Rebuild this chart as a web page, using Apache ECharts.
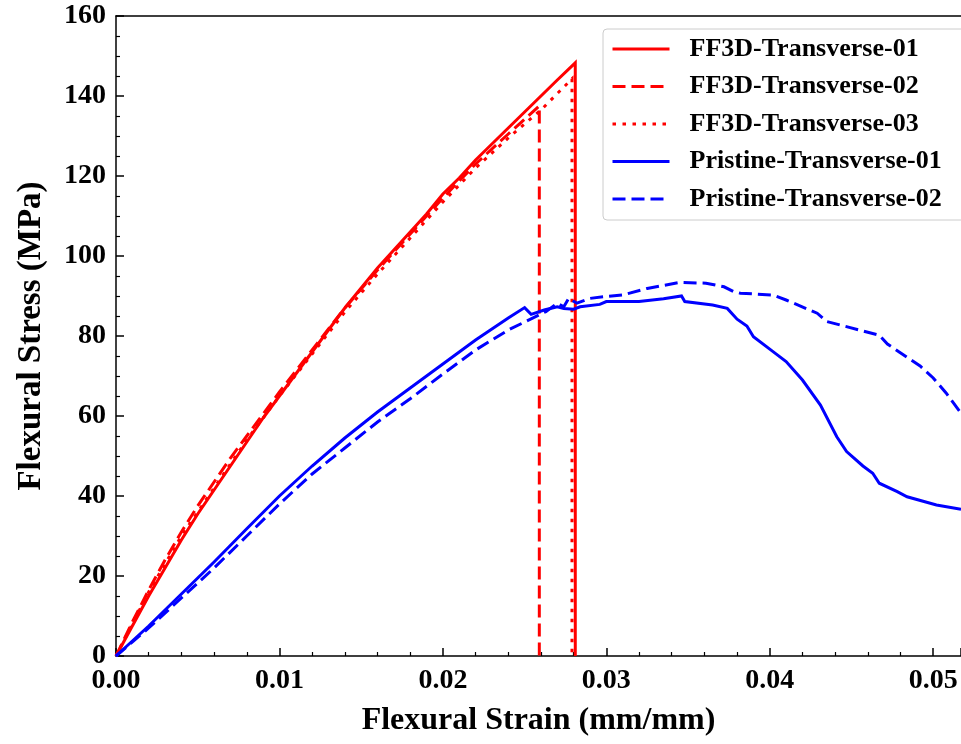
<!DOCTYPE html>
<html>
<head>
<meta charset="utf-8">
<script src="https://cdn.jsdelivr.net/npm/echarts@6/dist/echarts.min.js"></script>
<style>
html,body{margin:0;padding:0;background:#fff;}
#chart{width:961px;height:744px;}
</style>
</head>
<body>
<div id="chart"></div>
<script>
var seriesNames = ['FF3D-Transverse-01','FF3D-Transverse-02','FF3D-Transverse-03','Pristine-Transverse-01','Pristine-Transverse-02'];

var ff3d01 = [[0,0],[0.001,7.5],[0.002,15],[0.003,22],[0.004,29],[0.005,35.5],[0.006,41.5],[0.007,47.5],[0.008,53.5],[0.009,59.5],[0.010,65],[0.011,70.5],[0.012,76],[0.013,81.5],[0.014,87],[0.015,92],[0.016,97],[0.017,101.5],[0.018,106],[0.019,110.5],[0.020,115.5],[0.021,119.5],[0.022,124],[0.023,128],[0.024,132],[0.025,136],[0.026,140],[0.027,144],[0.0281,148.3],[0.0281,0]];

var ff3d02 = [[0,0],[0.001,8.5],[0.002,16.5],[0.003,24],[0.004,31],[0.005,37.5],[0.006,43.5],[0.007,49.5],[0.008,55],[0.009,60.5],[0.010,66],[0.012,76.5],[0.014,87],[0.016,96.5],[0.018,105.5],[0.020,114.5],[0.022,123],[0.024,130.5],[0.0259,137.5],[0.0259,0]];

var ff3d03 = [[0,0],[0.001,8],[0.002,16],[0.003,23],[0.004,30],[0.005,36],[0.006,42],[0.007,48],[0.008,54],[0.009,59.5],[0.010,65],[0.012,75.5],[0.014,86],[0.016,95.5],[0.018,104.5],[0.020,113.5],[0.022,122],[0.024,129.5],[0.026,136.5],[0.0279,144.3],[0.0279,0]];

var pristine01 = [[0,0],[0.002,7.5],[0.004,15.5],[0.006,23.5],[0.008,31.8],[0.010,40],[0.012,47.5],[0.014,54.5],[0.016,61],[0.018,67],[0.020,73],[0.022,79],[0.024,84.5],[0.0250,87.1],[0.0254,85.4],[0.0262,86.5],[0.0270,87.3],[0.0274,86.9],[0.0280,86.7],[0.0284,87.3],[0.0296,87.9],[0.0300,88.6],[0.0320,88.6],[0.0335,89.3],[0.0346,90.0],[0.0348,88.6],[0.0365,87.75],[0.0374,86.9],[0.0380,84.2],[0.0386,82.5],[0.0390,79.8],[0.0402,76.1],[0.0410,73.6],[0.0420,69],[0.0431,62.75],[0.0441,54.8],[0.0447,51.1],[0.0457,47.5],[0.0463,45.7],[0.0467,43.2],[0.0478,41.1],[0.0484,39.8],[0.0502,37.75],[0.0517,36.7]];

var pristine02 = [[0,0],[0.002,7],[0.004,14.5],[0.006,22],[0.008,30],[0.010,38],[0.012,45.5],[0.014,52],[0.016,58.5],[0.018,64.3],[0.020,70.5],[0.022,76.5],[0.024,81.5],[0.0263,86.1],[0.0270,88.2],[0.0274,87.3],[0.0277,89.4],[0.0282,88.2],[0.0290,89.4],[0.0298,89.8],[0.0310,90.25],[0.0325,91.9],[0.0345,93.4],[0.0361,93.2],[0.0372,92.3],[0.0378,91.1],[0.0382,90.7],[0.0402,90.25],[0.0410,89],[0.0429,85.7],[0.0435,83.6],[0.0467,80.2],[0.0472,78],[0.0492,72.5],[0.0500,69.5],[0.0508,65.7],[0.0517,60.7]];

var xTicks = [0, 0.01, 0.02, 0.03, 0.04, 0.05];
var yTicks = [0, 20, 40, 60, 80, 100, 120, 140, 160];

var FONT = "'Liberation Serif','Times New Roman',serif";
var RED = '#ff0000', BLUE = '#0000ff';

function mkSeries(name, data, color, type) {
  var dash = type === 'dashed' ? [13, 6] : (type === 'dotted' ? [3.5, 6.5] : 'solid');
  return {
    name: name, type: 'line', data: data, showSymbol: false, symbol: 'none',
    animation: false, silent: true,
    lineStyle: { color: color, width: 3, type: dash, cap: 'butt', join: 'miter' },
    itemStyle: { color: color }
  };
}

var chart = echarts.init(document.getElementById('chart'), null, { renderer: 'canvas' });
chart.setOption({
  backgroundColor: '#fff',
  animation: false,
  grid: { left: 116, top: 16, right: 0, bottom: 88, containLabel: false },
  legend: {
    orient: 'vertical', left: 603, top: 29,
    padding: [7, 40, 8, 8],
    itemWidth: 57, itemHeight: 14, itemGap: 11.5,
    borderColor: '#cccccc', borderWidth: 1, borderRadius: 4,
    backgroundColor: '#fff',
    itemStyle: { opacity: 0 },
    lineStyle: { width: 3 },
    data: seriesNames,
    textStyle: { fontFamily: FONT, fontWeight: 'bold', fontSize: 26, color: '#000', lineHeight: 26, padding: [0, 0, 0, 15] }
  },
  xAxis: [{
    type: 'value', min: 0, max: 0.0517, interval: 0.01,
    name: 'Flexural Strain (mm/mm)', nameLocation: 'middle', nameGap: 49,
    nameTextStyle: { fontFamily: FONT, fontWeight: 'bold', fontSize: 32, color: '#000' },
    axisLine: { show: true, onZero: false, lineStyle: { color: '#000', width: 1.5 } },
    axisTick: { show: true, inside: true, length: 8, lineStyle: { color: '#000', width: 1.5 } },
    minorTick: { show: true, splitNumber: 5, length: 4, lineStyle: { color: '#000', width: 1.2 } },
    splitLine: { show: false },
    axisLabel: { fontFamily: FONT, fontWeight: 'bold', fontSize: 28, color: '#000', margin: 11, showMaxLabel: false,
      formatter: function (v) { return xTicks.some(function (t) { return Math.abs(t - v) < 1e-9; }) ? v.toFixed(2) : ''; } }
  }, {
    type: 'value', position: 'top', min: 0, max: 0.0517,
    axisLine: { show: true, onZero: false, lineStyle: { color: '#000', width: 1.5 } },
    axisTick: { show: false }, axisLabel: { show: false }, splitLine: { show: false }
  }],
  yAxis: {
    type: 'value', min: 0, max: 160, interval: 20,
    name: 'Flexural Stress (MPa)', nameLocation: 'middle', nameGap: 68,
    nameTextStyle: { fontFamily: FONT, fontWeight: 'bold', fontSize: 33, color: '#000' },
    axisLine: { show: true, onZero: false, lineStyle: { color: '#000', width: 1.5 } },
    axisTick: { show: true, inside: true, length: 8, lineStyle: { color: '#000', width: 1.5 } },
    minorTick: { show: true, splitNumber: 4, length: 4, lineStyle: { color: '#000', width: 1.2 } },
    splitLine: { show: false },
    axisLabel: { fontFamily: FONT, fontWeight: 'bold', fontSize: 28, color: '#000', margin: 10,
      formatter: function (v) { return yTicks.indexOf(v) >= 0 ? String(v) : ''; } }
  },
  series: [
    mkSeries(seriesNames[0], ff3d01, RED, 'solid'),
    mkSeries(seriesNames[1], ff3d02, RED, 'dashed'),
    mkSeries(seriesNames[2], ff3d03, RED, 'dotted'),
    mkSeries(seriesNames[3], pristine01, BLUE, 'solid'),
    mkSeries(seriesNames[4], pristine02, BLUE, 'dashed')
  ]
});
</script>
</body>
</html>
